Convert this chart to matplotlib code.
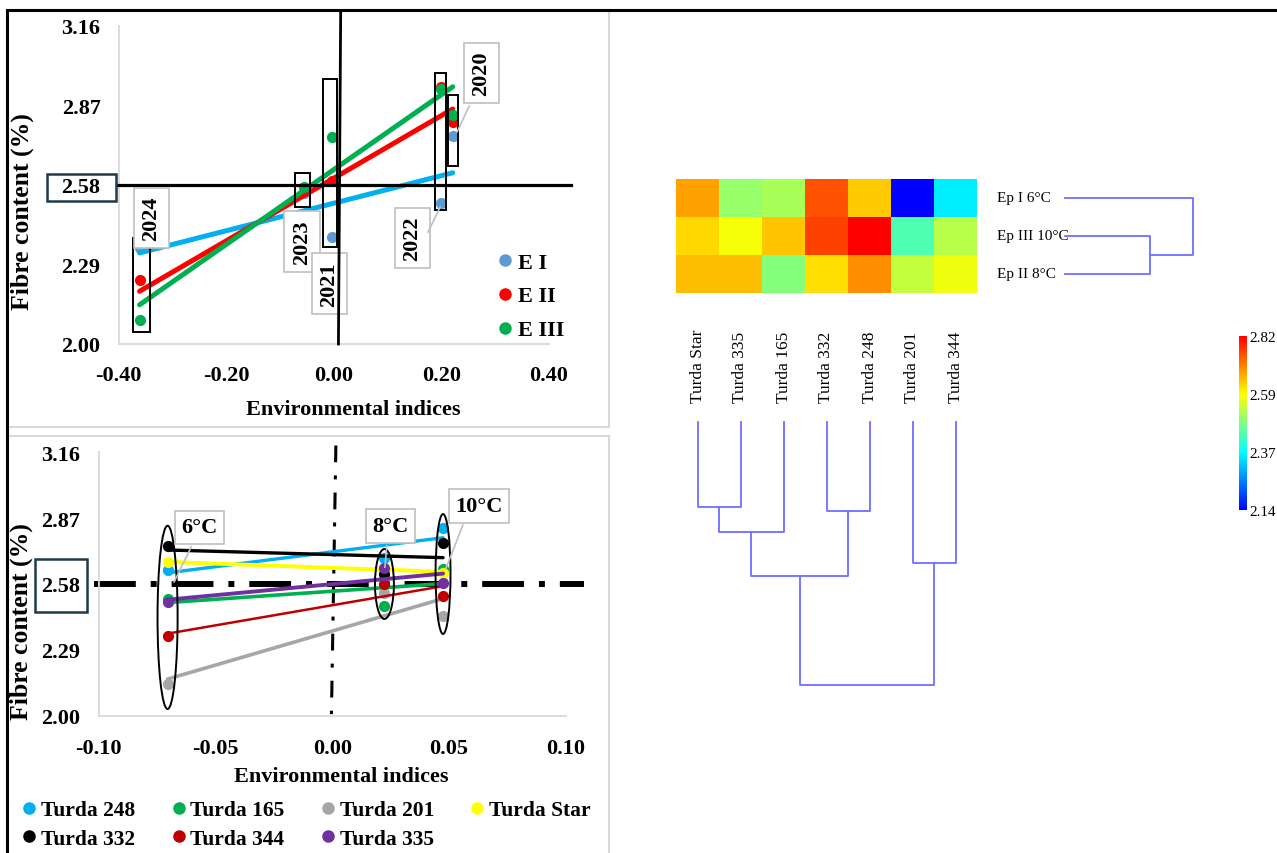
import matplotlib
matplotlib.use("Agg")
import matplotlib.pyplot as plt
import numpy as np
from matplotlib.lines import Line2D
from matplotlib.patches import Rectangle, Ellipse
from matplotlib.colors import LinearSegmentedColormap
from matplotlib.ticker import FormatStrFormatter

plt.rcParams['font.family'] = ['Liberation Serif', 'DejaVu Serif']

W, H = 1277, 854

# --- top-left: fibre content per year and sowing epoch ---
years = ["2020", "2021", "2022", "2023", "2024"]
year_index = [0.221, -0.004, 0.199, -0.056, -0.361]
epoch_labels = ["E I", "E II", "E III"]
fibre_e1 = [2.759, 2.389, 2.514, 2.552, 2.351]
fibre_e2 = [2.808, 2.595, 2.935, 2.448, 2.234]
fibre_e3 = [2.835, 2.753, 2.929, 2.571, 2.089]
grand_mean = 2.58

# --- bottom-left: genotypes across the three temperatures ---
temps = ["6°C", "8°C", "10°C"]
temp_index = [-0.0705, 0.0224, 0.0475]
genotypes = ["Turda 248", "Turda 165", "Turda 201", "Turda Star",
             "Turda 332", "Turda 344", "Turda 335"]
fibre_6c = [2.641, 2.515, 2.140, 2.676, 2.747, 2.350, 2.500]
fibre_8c = [2.695, 2.485, 2.540, 2.650, 2.622, 2.580, 2.652]
fibre_10c = [2.828, 2.644, 2.437, 2.628, 2.760, 2.528, 2.586]

# --- heatmap / clustering ---
hm_rows = ["Ep I 6°C", "Ep III 10°C", "Ep II 8°C"]
hm_cols = ["Turda Star", "Turda 335", "Turda 165", "Turda 332",
           "Turda 248", "Turda 201", "Turda 344"]
# merges: (left, right, height), scipy-style numbering in display order
col_links = [(0, 1, 0.85), (3, 4, 0.89), (7, 2, 1.10),
             (5, 6, 1.41), (9, 8, 1.54), (11, 10, 2.63)]
row_links = [(1, 2, 0.85), (0, 3, 1.28)]
cbar_min, cbar_max = 2.14, 2.82

epoch_colors = ['#5B9BD5', '#FF0000', '#00B050']
epoch_line_colors = ['#00B0F0', '#FF0000', '#00B050']
geno_colors = ['#00B0F0', '#00B050', '#A6A6A6', '#FFFF00',
               '#000000', '#C00000', '#7030A0']


def box(x0, y0, x1, y1):
    return [x0 / W, 1 - y1 / H, (x1 - x0) / W, (y1 - y0) / H]


def fig_line(fig, xs, ys, **kw):
    fig.add_artist(Line2D([x / W for x in xs], [1 - y / H for y in ys],
                          transform=fig.transFigure, **kw))


def fig_rect(fig, x0, y0, x1, y1, **kw):
    fig.add_artist(Rectangle((x0 / W, 1 - y1 / H), (x1 - x0) / W, (y1 - y0) / H,
                             transform=fig.transFigure, fill=False, **kw))


def style_axes(ax, xticks, yticks, xpad, ypad):
    for s in ['top', 'right']:
        ax.spines[s].set_visible(False)
    for s in ['left', 'bottom']:
        ax.spines[s].set_color('#D9D9D9')
        ax.spines[s].set_linewidth(1.3)
    ax.set_xticks(xticks)
    ax.set_xticklabels([f'{v:.2f}' for v in xticks])
    ax.set_yticks(yticks)
    ax.set_yticklabels([f'{v:.2f}' for v in yticks])
    ax.tick_params(axis='x', length=0, labelsize=16, pad=xpad)
    ax.tick_params(axis='y', length=0, labelsize=16, pad=ypad)
    for lbl in ax.get_xticklabels() + ax.get_yticklabels():
        lbl.set_fontweight('bold')
    ax.patch.set_alpha(0)


def draw_dendro(ax, n, links, vertical, **kw):
    pos = {i: float(i) for i in range(n)}
    hgt = {i: 0.0 for i in range(n)}
    for k, (a, b, h) in enumerate(links):
        xs = [pos[a], pos[a], pos[b], pos[b]]
        ys = [hgt[a], h, h, hgt[b]]
        if vertical:
            ax.plot(xs, ys, clip_on=False, **kw)
        else:
            ax.plot(ys, xs, clip_on=False, **kw)
        pos[n + k] = (pos[a] + pos[b]) / 2
        hgt[n + k] = h


fig = plt.figure(figsize=(W / 100, H / 100), dpi=100)

# panel frames
grey = '#D9D9D9'
fig_line(fig, [609, 609], [11, 428], color=grey, lw=1.5)
fig_line(fig, [7, 609], [428, 428], color=grey, lw=1.5)
fig_line(fig, [7, 609], [437, 437], color=grey, lw=1.5)
fig_line(fig, [609, 609], [437, 854], color=grey, lw=1.5)
fig_line(fig, [7, 1277], [11, 11], color='black', lw=2.2)
fig_line(fig, [7, 7], [11, 854], color='black', lw=2.2)

bold = dict(fontsize=16, fontweight='bold')
ylab = dict(fontsize=18.5, fontweight='bold')

# ---------------- top-left ----------------
ax1 = fig.add_axes(box(118.6, 26.7, 549, 345))
ax1.set_xlim(-0.4, 0.4)
ax1.set_ylim(2.0, 3.16)
style_axes(ax1, [-0.4, -0.2, 0.0, 0.2, 0.4], [2.00, 2.29, 2.58, 2.87, 3.16], 15, 13)

for vals, c, lc in zip([fibre_e1, fibre_e2, fibre_e3], epoch_colors, epoch_line_colors):
    ax1.scatter(year_index, vals, s=65, color=c, zorder=3, linewidths=0)
    p = np.poly1d(np.polyfit(year_index, vals, 1))
    xs = np.array([min(year_index), max(year_index)])
    ax1.plot(xs, p(xs), color=lc, lw=3.6, solid_capstyle='round', zorder=3)

ax1.plot([-0.403, 0.44], [grand_mean, grand_mean], color='black', lw=2.3,
         clip_on=False, zorder=4)
ax1.plot([0.0128, 0.0086], [3.214, 2.0], color='black', lw=2.0,
         clip_on=False, zorder=6)

# frames around each year's points
year_frames = {"2024": (-0.373, -0.341, 2.044, 2.386),
               "2023": (-0.072, -0.044, 2.499, 2.623),
               "2021": (-0.020, 0.006, 2.354, 2.966),
               "2022": (0.188, 0.209, 2.488, 2.988),
               "2020": (0.2125, 0.231, 2.649, 2.907)}
for x0, x1, y0, y1 in year_frames.values():
    ax1.add_patch(Rectangle((x0, y0), x1 - x0, y1 - y0, fill=False,
                            ec='black', lw=1.4, zorder=4))

year_tags = {"2020": (0.2744, 2.989), "2024": (-0.3387, 2.459),
             "2023": (-0.0589, 2.3735), "2021": (-0.0078, 2.2205),
             "2022": (0.1465, 2.386)}
for txt, (tx, ty) in year_tags.items():
    ax1.text(tx, ty, txt, rotation=90, ha='center', va='center', zorder=5,
             bbox=dict(boxstyle='square,pad=0.35', fc='white', ec='#BFBFBF', lw=1.2),
             **bold)
ax1.plot([0.2515, 0.2292], [2.867, 2.773], color='#BFBFBF', lw=1.2, zorder=5)
ax1.plot([0.1753, 0.1976], [2.408, 2.499], color='#BFBFBF', lw=1.2, zorder=5)

fig_rect(fig, 46.7, 175, 116, 201.7, ec='#1F3A4D', lw=1.8)
fig.text(22 / W, 1 - 212 / H, "Fibre content (%)", rotation=90,
         ha='center', va='center', **ylab)
fig.text(353 / W, 1 - 410 / H, "Environmental indices", ha='center', va='center', **bold)

h1 = [Line2D([], [], ls='', marker='o', ms=8, color=c) for c in epoch_colors]
fig.legend(h1, epoch_labels, loc='upper left', bbox_to_anchor=(499 / W, 1 - 253 / H),
           frameon=False, prop=dict(weight='bold', size=16), handlelength=0.5,
           handletextpad=0.35, labelspacing=0.6, borderaxespad=0, borderpad=0)

# ---------------- bottom-left ----------------
ax2 = fig.add_axes(box(98.7, 453.3, 565.6, 716.7))
ax2.set_xlim(-0.1, 0.1)
ax2.set_ylim(2.0, 3.16)
style_axes(ax2, [-0.10, -0.05, 0.0, 0.05, 0.10], [2.00, 2.29, 2.58, 2.87, 3.16], 16, 13.5)

geno_lw = [2.4, 2.6, 2.6, 2.8, 2.4, 1.8, 2.8]
for i, g in enumerate(genotypes):
    vals = [fibre_6c[i], fibre_8c[i], fibre_10c[i]]
    ax2.scatter(temp_index, vals, s=65, color=geno_colors[i], zorder=3, linewidths=0)
    p = np.poly1d(np.polyfit(temp_index, vals, 1))
    xs = np.array([min(temp_index), max(temp_index)])
    ax2.plot(xs, p(xs), color=geno_colors[i], lw=geno_lw[i],
             solid_capstyle='round', zorder=3)

ax2.plot([-0.1021, 0.1077], [grand_mean, grand_mean], color='black', lw=4.3,
         dashes=(7, 2.5, 1, 2.5), clip_on=False, zorder=2)
ax2.plot([0.0016, -0.0003], [3.19, 2.007], color='black', lw=2.2,
         dashes=(5.5, 4.3, 1.3, 4.3), clip_on=False, zorder=2)

temp_rings = [(2.433, 0.0086, 0.807), (2.580, 0.0081, 0.308), (2.624, 0.0064, 0.528)]
for tx, (yc, w, h) in zip(temp_index, temp_rings):
    ax2.add_patch(Ellipse((tx, yc), w, h, fill=False, ec='black', lw=1.4, zorder=4))

temp_tags = [(-0.0568, 2.829), (0.025, 2.835), (0.0629, 2.923)]
for txt, (tx, ty) in zip(temps, temp_tags):
    ax2.text(tx, ty, txt, ha='center', va='center', zorder=5,
             bbox=dict(boxstyle='square,pad=0.3', fc='white', ec='#BFBFBF', lw=1.2),
             **bold)
ax2.plot([-0.0604, -0.0677], [2.743, 2.589], color='#BFBFBF', lw=1.2, zorder=5)
ax2.plot([0.0234, 0.0226], [2.749, 2.654], color='#BFBFBF', lw=1.2, zorder=5)
ax2.plot([0.0560, 0.0487], [2.839, 2.648], color='#BFBFBF', lw=1.2, zorder=5)

fig_rect(fig, 35, 560, 87, 613, ec='#1F3A4D', lw=1.8)
fig.text(21 / W, 1 - 622 / H, "Fibre content (%)", rotation=90,
         ha='center', va='center', **ylab)
fig.text(341 / W, 1 - 777 / H, "Environmental indices", ha='center', va='center', **bold)

order = [0, 4, 1, 5, 2, 6, 3]
h2 = [Line2D([], [], ls='', marker='o', ms=8, color=geno_colors[i]) for i in order]
fig.legend(h2, [genotypes[i] for i in order], ncol=4, loc='upper left',
           bbox_to_anchor=(24 / W, 1 - 801 / H), frameon=False,
           prop=dict(weight='bold', size=15.5), handlelength=0.5, handletextpad=0.3,
           columnspacing=1.75, labelspacing=0.4, borderaxespad=0, borderpad=0)

# ---------------- heatmap with dendrograms ----------------
src = {"Ep I 6°C": fibre_6c, "Ep II 8°C": fibre_8c, "Ep III 10°C": fibre_10c}
col_src = [genotypes.index(c) for c in hm_cols]
matrix = np.array([[src[r][j] for j in col_src] for r in hm_rows])

cmap = LinearSegmentedColormap.from_list(
    'bcyr', [(0, '#0000FF'), (1 / 3, '#00FFFF'), (2 / 3, '#FFFF00'), (1, '#FF0000')])

axh = fig.add_axes(box(676, 180, 977, 294))
im = axh.imshow(matrix, cmap=cmap, vmin=cbar_min, vmax=cbar_max,
                aspect='auto', interpolation='nearest')
axh.axis('off')

dendro_color = '#6E6EFF'
axc = fig.add_axes(box(676, 423, 977, 686))
axc.set_xlim(-0.5, len(hm_cols) - 0.5)
axc.set_ylim(2.63, 0)
axc.axis('off')
draw_dendro(axc, len(hm_cols), col_links, True, color=dendro_color, lw=1.3)
for i, name in enumerate(hm_cols):
    axc.text(i, -0.20, name, rotation=90, ha='center', va='bottom',
             fontsize=12.5, clip_on=False)

axr = fig.add_axes(box(1065, 180, 1193, 294))
axr.set_xlim(0, 1.28)
axr.set_ylim(len(hm_rows) - 0.5, -0.5)
axr.axis('off')
draw_dendro(axr, len(hm_rows), row_links, False, color=dendro_color, lw=1.3)
for i, name in enumerate(hm_rows):
    axr.text(-0.68, i, name, ha='left', va='center', fontsize=11, clip_on=False)

cax = fig.add_axes(box(1239, 337, 1247, 511))
cb = fig.colorbar(im, cax=cax, ticks=np.linspace(cbar_min, cbar_max, 4))
cb.outline.set_visible(False)
cb.ax.yaxis.set_major_formatter(FormatStrFormatter('%.2f'))
cb.ax.tick_params(length=0, pad=1.5, labelsize=11)

fig.savefig('out.png', dpi=100)
